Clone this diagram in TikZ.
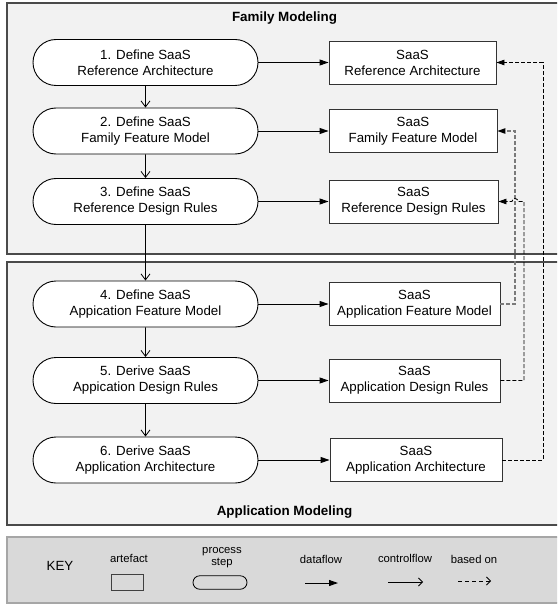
\documentclass[tikz,border=0pt]{standalone}
\usepackage{fontspec}
\setmainfont{Liberation Sans}
\usetikzlibrary{shapes.misc,arrows.meta}
\definecolor{framefill}{HTML}{F2F2F2}
\definecolor{frameline}{HTML}{4A4A4A}
\definecolor{keyfill}{HTML}{D9D9D9}
\definecolor{keyline}{HTML}{A6A6A6}
\definecolor{grayflow}{HTML}{7A7A7A}
\begin{document}
\begin{tikzpicture}[x=1pt,y=-1pt,
  txt/.style={font=\fontsize{13.3}{16}\selectfont, align=center},
  ttl/.style={font=\fontsize{13.4}{16}\selectfont\bfseries},
  keytxt/.style={font=\fontsize{11.3}{12}\selectfont, align=center},
  frame/.style={draw=frameline, fill=framefill, line width=1.5pt},
  keybox/.style={draw=keyline, fill=keyfill, line width=1.5pt},
  proc/.style={txt, draw=black, fill=white, rounded rectangle, minimum width=225, minimum height=46, inner sep=0pt, line width=0.9pt},
  art/.style={txt, draw=black!80, fill=white, minimum height=43, inner sep=0pt, line width=0.9pt},
  data/.style={draw=black, line width=0.9pt, -{Triangle[length=9pt,width=6pt]}},
  ctrl/.style={draw=black, line width=0.8pt, -{Straight Barb[length=6pt,width=9pt]}},
  based/.style={draw=black, line width=0.9pt, dash pattern=on 4pt off 2pt, -{Triangle[length=8pt,width=5.5pt,color=black]}},
  basedgray/.style={based, draw=grayflow, line width=1.1pt}
]
\useasboundingbox (0,0) rectangle (557,604);
\clip (0,0) rectangle (557,604);

% frames
\draw[frame] (7,3) rectangle (563,254);
\draw[frame] (7,262) rectangle (563,525);
\node[ttl] (famtitle) at (284.5,18) {Family Modeling};
\node[ttl] (apptitle) at (284.5,512) {Application Modeling};

% process steps
\node[proc] (p1) at (145.5,62.5) {1. Define SaaS\\Reference Architecture};
\node[proc] (p2) at (145.5,131) {2. Define SaaS\\Family Feature Model};
\node[proc] (p3) at (145.5,201.5) {3. Define SaaS\\Reference Design Rules};
\node[proc] (p4) at (145.5,304) {4. Define SaaS\\Appication Feature Model};
\node[proc] (p5) at (145.5,380.5) {5. Derive SaaS\\Appication Design Rules};
\node[proc] (p6) at (145.5,460) {6. Derive SaaS\\Application Architecture};

% artefacts
\node[art, minimum width=167] (a1) at (412.5,62.5) {SaaS\\Reference Architecture};
\node[art, minimum width=168] (a2) at (413,131) {SaaS\\Family Feature Model};
\node[art, minimum width=169] (a3) at (413.5,201.5) {SaaS\\Reference Design Rules};
\node[art, minimum width=171] (a4) at (414.5,304) {SaaS\\Application Feature Model};
\node[art, minimum width=171] (a5) at (414.5,380.5) {SaaS\\Application Design Rules};
\node[art, minimum width=172] (a6) at (416,460) {SaaS\\Application Architecture};

% controlflow
\draw[ctrl] (p1) -- (p2);
\draw[ctrl] (p2) -- (p3);
\draw[ctrl] (p3) -- (p4);
\draw[ctrl] (p4) -- (p5);
\draw[ctrl] (p5) -- (p6);

% dataflow
\draw[data] (p1.east) -- (a1.west);
\draw[data] (p2.east) -- (a2.west);
\draw[data] (p3.east) -- (a3.west);
\draw[data] (p4.east) -- (a4.west);
\draw[data] (p5.east) -- (a5.west);
\draw[data] (p6.east) -- (a6.west);

% based on
\coordinate (r1) at (543,0);
\coordinate (r2) at (515,0);
\coordinate (r3) at (524,0);
\draw[based] (a6.east) -- (a6.east -| r1) -- (a1.east -| r1) -- (a1.east);
\draw[basedgray] (a4.east) -- (a4.east -| r2) -- (a2.east -| r2) -- (a2.east);
\draw[based] (a5.east) -- (a5.east -| r3) -- (a3.east -| r3) -- (518,201.5) arc[start angle=0, end angle=180, radius=3pt] -- (a3.east);

% key
\draw[keybox] (7,537) rectangle (563,603);
\node[font=\fontsize{13.3}{16}\selectfont] (keylbl) at (60,566) {KEY};
\node[keytxt] (k1) at (129,558) {artefact};
\node[draw=black!75, line width=0.8pt, minimum width=32, minimum height=16, inner sep=0pt] (k1s) at (127,582) {};
\node[keytxt] (k2) at (222,558) {process\\step};
\node[draw=black, line width=0.8pt, rounded rectangle, minimum width=54, minimum height=13.5, inner sep=0pt] (k2s) at (220,582.5) {};
\node[keytxt] (k3) at (321,559) {dataflow};
\coordinate (k3a) at (305,583);
\coordinate (k3b) at (338,583);
\draw[data] (k3a) -- (k3b);
\node[keytxt] (k4) at (405,558) {controlflow};
\coordinate (k4a) at (388,582);
\coordinate (k4b) at (423,582);
\draw[draw=black, line width=0.8pt, -{Straight Barb[length=4pt,width=8pt]}] (k4a) -- (k4b);
\node[keytxt] (k5) at (474,559) {based on};
\coordinate (k5a) at (458,581);
\coordinate (k5b) at (491,581);
\draw[draw=black, line width=0.8pt, dash pattern=on 4pt off 3pt, -{Straight Barb[length=4pt,width=8pt]}] (k5a) -- (k5b);
\end{tikzpicture}
\end{document}
